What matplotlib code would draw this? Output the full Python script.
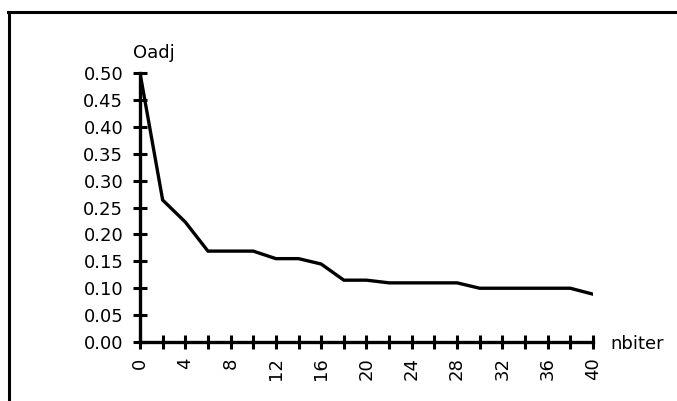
import matplotlib
matplotlib.use("Agg")
import matplotlib.pyplot as plt
from matplotlib.lines import Line2D

# Oadj value after each pair of iterations
nbiter = [0, 2, 4, 6, 8, 10, 12, 14, 16, 18, 20, 22, 24, 26, 28, 30, 32, 34, 36, 38, 40]
oadj = [0.50, 0.264, 0.223, 0.169, 0.169, 0.169, 0.155, 0.155, 0.145, 0.115, 0.115,
        0.110, 0.110, 0.110, 0.110, 0.100, 0.100, 0.100, 0.100, 0.100, 0.089]

x_ticks = list(range(0, 41, 2))
x_labels = [str(v) if v % 4 == 0 else "" for v in x_ticks]
y_ticks = [0.00, 0.05, 0.10, 0.15, 0.20, 0.25, 0.30, 0.35, 0.40, 0.45, 0.50]

plt.rcParams['font.family'] = ['DejaVu Sans']

fig = plt.figure(figsize=(6.77, 4.01), dpi=100)
ax = fig.add_axes([0.2068, 0.147, 0.669, 0.671])

ax.plot(nbiter, oadj, color="black", linewidth=2.4, solid_joinstyle="miter")

ax.set_xlim(0, 40)
ax.set_ylim(0, 0.5)
ax.set_xticks(x_ticks)
ax.set_xticklabels(x_labels, rotation=90, fontsize=13)
ax.set_yticks(y_ticks)
ax.set_yticklabels([f"{v:.2f}" for v in y_ticks], fontsize=13)
ax.tick_params(direction="inout", length=10, width=2.2)
ax.tick_params(axis="y", pad=7)
ax.tick_params(axis="x", pad=6)

for side in ["top", "right"]:
    ax.spines[side].set_visible(False)
for side in ["left", "bottom"]:
    ax.spines[side].set_linewidth(2.4)

fig.text(0.196, 0.868, "Oadj", fontsize=13, ha="left", va="center")
fig.text(0.901, 0.142, "nbiter", fontsize=13, ha="left", va="center")

# outer frame: top and left edges
fig.add_artist(Line2D([8 / 677, 1.0], [1 - 12 / 401, 1 - 12 / 401],
                      transform=fig.transFigure, color="black", linewidth=2.2))
fig.add_artist(Line2D([9 / 677, 9 / 677], [0.0, 1 - 12 / 401],
                      transform=fig.transFigure, color="black", linewidth=2.2))

fig.savefig("out.png", dpi=100)
